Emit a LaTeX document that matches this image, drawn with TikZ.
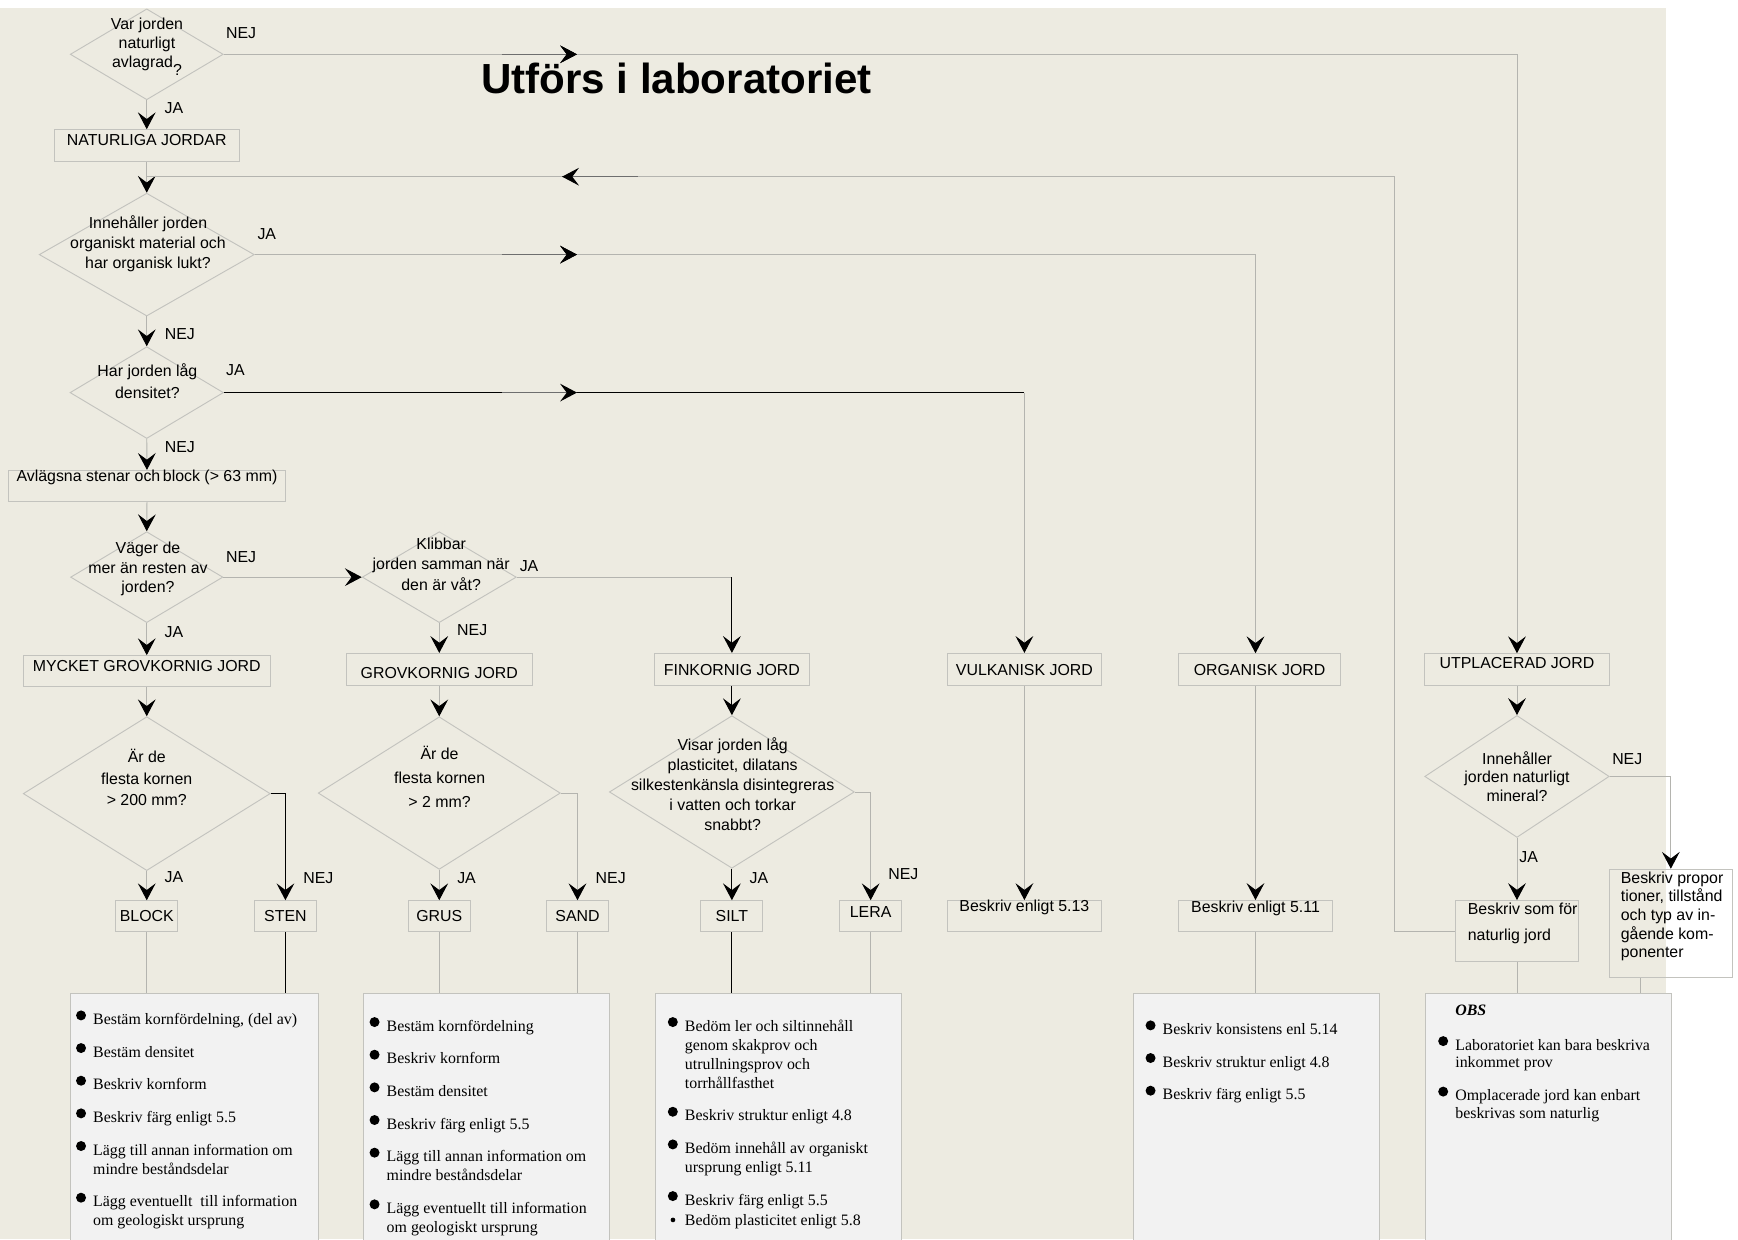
\documentclass[tikz,border=0pt]{standalone}
\usepackage{fontspec}
\setmainfont{Liberation Serif}
\setsansfont{Liberation Sans}
\usepackage{tikz}
\usetikzlibrary{positioning}
\usetikzlibrary{shapes.geometric}
\usetikzlibrary{arrows.meta}
\usetikzlibrary{decorations.markings}
\usepackage{xcolor}

\definecolor{beige}{RGB}{237,235,225}
\definecolor{linegray}{RGB}{180,180,175}
\definecolor{boxgray}{RGB}{195,195,190}
\definecolor{listfill}{RGB}{242,242,242}
\definecolor{shaftgray}{RGB}{110,110,110}

\newcommand{\boxfont}{\sffamily\fontsize{10.2}{12.2}\selectfont}
\newcommand{\prick}{\makebox[0pt][r]{\raisebox{2.6pt}{\tikz\fill (0,0) circle (3.2pt);}\hspace{4.6pt}}}
\newcommand{\liten}{\makebox[0pt][r]{\raisebox{1.8pt}{\tikz\fill (0,0) circle (1.5pt);}\hspace{6.2pt}}}

\begin{document}
\begin{tikzpicture}[x=0.025cm, y=-0.025cm,
  link/.style={draw=linegray, line width=0.6pt},
  blink/.style={draw=black, line width=0.7pt},
  tip/.style={-{Stealth[length=3.8mm, width=4mm, inset=1.5mm, color=black]}},
  box/.style={draw=boxgray, line width=0.6pt, inner sep=0pt, font=\boxfont, text height=7.3pt, text depth=0pt},
  query/.style={diamond, draw=boxgray, line width=0.6pt, inner sep=0pt},
  qtext/.style={align=center, inner sep=0pt, anchor=north, font=\sffamily\fontsize{10.2}{#1}\selectfont, execute at begin node={\rule{0pt}{8.5pt}}},
  lbl/.style={font=\boxfont, inner sep=0pt, text height=7.3pt, text depth=0pt},
  listbox/.style={draw=boxgray, fill=listfill, line width=0.6pt, inner sep=0pt, anchor=north west, minimum height=6cm},
  listtext/.style={align=left, inner sep=0pt, anchor=north west, font=\fontsize{10.2}{12.2}\selectfont, execute at begin node={\rule{0pt}{8.5pt}}},
  midtip/.style={postaction={decorate}, decoration={markings, mark=at position #1 with {\draw[shaftgray, line width=0.6pt] (-1.7cm,0) -- (0,0); \arrow{Stealth[length=3.8mm, width=4mm, inset=1.5mm, color=black]}}}}
]

\useasboundingbox (0,0) rectangle (1568,1118);
\fill[beige] (0,7.5) rectangle (1503,1118);

\node[font=\sffamily\bfseries\fontsize{27}{30}\selectfont, anchor=base, inner sep=0pt] (title) at (610.3,84.2) {Utförs i laboratoriet};

% questions
\node[query, minimum width=3.45cm, minimum height=2.05cm] (q1) at (132.4,49) {};
\node[query, minimum width=4.85cm, minimum height=2.77cm] (q2) at (132.4,229.7) {};
\node[query, minimum width=3.46cm, minimum height=2.07cm] (q3) at (132.4,354.2) {};
\node[query, minimum width=3.435cm, minimum height=2.05cm] (q4) at (132.4,520.7) {};
\node[query, minimum width=3.475cm, minimum height=2.05cm] (q5) at (396.3,520.7) {};
\node[query, minimum width=5.57cm, minimum height=3.47cm] (q6) at (132.4,716) {};
\node[query, minimum width=5.46cm, minimum height=3.44cm] (q7) at (396.3,715.5) {};
\node[query, minimum width=5.525cm, minimum height=3.44cm] (q8) at (660.3,714.5) {};
\node[query, minimum width=4.16cm, minimum height=2.75cm] (q9) at (1368.6,700.5) {};

\node[qtext=12.2pt] (q1-t) at (132.6,15.7) {Var jorden\\naturligt\\avlagrad\raisebox{-5pt}{?}};
\node[qtext=13pt] (q2-t) at (133.5,194.1) {Innehåller jorden\\organiskt material och\\har organisk lukt?};
\node[qtext=14.4pt] (q3-t) at (133,327.8) {Har jorden låg\\densitet?};
\node[qtext=12.5pt] (q4-t) at (133.5,488.7) {Väger de\\mer än resten av\\jorden?};
\node[qtext=13.2pt] (q5-t) at (398,484.8) {Klibbar\\jorden samman när\\den är våt?};
\node[qtext=13.7pt] (q6-t) at (132.4,675.8) {Är de\\flesta kornen\\> 200 mm?};
\node[qtext=15.5pt] (q7-t) at (396.6,672.8) {Är de\\flesta kornen\\> 2 mm?};
\node[qtext=12.8pt] (q8-t) at (661,665.2) {Visar jorden låg\\plasticitet, dilatans\\silkestenkänsla disintegreras\\i vatten och torkar\\snabbt?};
\node[qtext=11.9pt] (q9-t) at (1368.6,677.8) {Innehåller\\jorden naturligt\\mineral?};

% boxes
\node[box, minimum width=4.175cm, minimum height=0.725cm, text depth=7.8pt] (nat) at (132.4,131.5) {NATURLIGA JORDAR};
\node[box, minimum width=6.255cm, minimum height=0.7cm, text depth=12.8pt] (avl) at (132.6,438.5) {Avlägsna stenar och\,block (> 63 mm)};
\node[box, minimum width=5.57cm, minimum height=0.7cm, text depth=6.4pt] (myc) at (132.4,605.5) {MYCKET GROVKORNIG JORD};
\node[box, minimum width=4.19cm, minimum height=0.72cm, text height=11.6pt] (grovk) at (396.3,603.9) {GROVKORNIG JORD};
\node[box, minimum width=3.5cm, minimum height=0.72cm] (fink) at (660.3,603.9) {FINKORNIG JORD};
\node[box, minimum width=3.47cm, minimum height=0.72cm] (vulk) at (924.2,603.9) {VULKANISK JORD};
\node[box, minimum width=3.65cm, minimum height=0.72cm] (organ) at (1136.35,604.15) {ORGANISK JORD};
\node[box, minimum width=4.17cm, minimum height=0.72cm, text depth=8.5pt] (utpl) at (1368.6,604.15) {UTPLACERAD JORD};

\node[box, minimum width=1.39cm, minimum height=0.7cm] (block) at (132.4,826.6) {BLOCK};
\node[box, minimum width=1.4cm, minimum height=0.7cm] (sten) at (257.5,826.6) {STEN};
\node[box, minimum width=1.41cm, minimum height=0.7cm] (grus) at (396.3,826.6) {GRUS};
\node[box, minimum width=1.38cm, minimum height=0.7cm] (sand) at (521,826.6) {SAND};
\node[box, minimum width=1.4cm, minimum height=0.7cm] (silt) at (660.3,826.6) {SILT};
\node[box, minimum width=1.4cm, minimum height=0.7cm, text depth=5.7pt] (lera) at (785.5,826.6) {LERA};
\node[box, minimum width=3.47cm, minimum height=0.7cm, text depth=12.8pt] (b513) at (924.2,826.6) {Beskriv enligt 5.13};
\node[box, minimum width=3.475cm, minimum height=0.69cm, text depth=11.4pt] (b511) at (1132.7,826.2) {Beskriv enligt 5.11};
\node[box, minimum width=2.775cm, minimum height=1.38cm] (bsom) at (1368.6,840.05) {};
\node[font=\sffamily\fontsize{10.2}{16.8}\selectfont, align=left, inner sep=0pt, anchor=north west, execute at begin node={\rule{0pt}{8.5pt}}] (bsom-t) at (1324,814.1) {Beskriv som för\\naturlig jord};
\node[box, minimum width=2.775cm, minimum height=2.445cm] (propor) at (1507.4,833.1) {};
\node[font=\sffamily\fontsize{10.2}{11.95}\selectfont, align=left, inner sep=0pt, anchor=north west, execute at begin node={\rule{0pt}{8.5pt}}] (propor-t) at (1462,786.1) {Beskriv propor\\tioner, tillstånd\\och typ av in-\\gående kom-\\ponenter};

% labels
\node[lbl] (l1) at (217.5,29.2) {NEJ};
\node[lbl] (l2) at (157,97.7) {JA};
\node[lbl] (l3) at (240.7,210.5) {JA};
\node[lbl] (l4) at (162.3,300.8) {NEJ};
\node[lbl] (l5) at (212.4,333.8) {JA};
\node[lbl] (l6) at (162.3,403) {NEJ};
\node[lbl] (l7) at (217.5,502.2) {NEJ};
\node[lbl] (l8) at (157,570) {JA};
\node[lbl] (l9) at (477.3,510.7) {JA};
\node[lbl] (l10) at (426,568.4) {NEJ};
\node[lbl] (l11) at (157,791) {JA};
\node[lbl] (l12) at (287.2,791.5) {NEJ};
\node[lbl] (l13) at (420.9,791.5) {JA};
\node[lbl] (l14) at (551,791.5) {NEJ};
\node[lbl] (l15) at (684.6,791.5) {JA};
\node[lbl] (l16) at (815,788.5) {NEJ};
\node[lbl] (l17) at (1468.1,684.7) {NEJ};
\node[lbl] (l18) at (1379.2,772.7) {JA};

\coordinate (orgx) at (1132.7,0);
\coordinate (fbturn) at (1258.1,159.4);
\coordinate (fbjoin) at (132.4,159.4);

% connectors
\draw[link, tip, midtip=7.965cm] (q1.east) -| (utpl.north);
\draw[link, tip] (q1.south) -- (nat.north);
\draw[link, tip] (nat.south) -- (q2.north);
\draw[link, midtip=37.145cm] (bsom.west) -| (fbturn) -- (fbjoin);
\draw[link, tip, midtip=7.265cm] (q2.east) -| (orgx |- organ.north);
\draw[link, tip] (q2.south) -- (q3.north);
\draw[blink, midtip=7.96cm] (q3.east) -- (vulk.north |- q3.east);
\draw[link, tip] (vulk.north |- q3.east) -- (vulk.north);
\draw[link, tip] (q3.south) -- (avl.north);
\draw[link, tip] (avl.south) -- (q4.north);
\draw[link, tip] (q4.east) -- (q5.west);
\draw[link, tip] (q4.south) -- (myc.north);
\draw[link, tip] (q5.south) -- (grovk.north);
\draw[link] (q5.east) -- (fink.north |- q5.east);
\draw[blink, tip] (fink.north |- q5.east) -- (fink.north);
\draw[link, tip] (myc.south) -- (q6.north);
\draw[link, tip] (grovk.south) -- (q7.north);
\draw[blink, tip] (fink.south) -- (q8.north);
\draw[link, tip] (q6.south) -- (block.north);
\draw[blink, tip] (q6.east) -| (sten.north);
\draw[link, tip] (q7.south) -- (grus.north);
\draw[link, tip] (q7.east) -| (sand.north);
\draw[blink, tip] (q8.south) -- (silt.north);
\draw[link, tip] (q8.east) -| (lera.north);
\draw[link, tip] (vulk.south) -- (b513.north);
\draw[link, tip] (orgx |- organ.south) -- (b511.north);
\draw[link, tip] (utpl.south) -- (q9.north);
\draw[link, tip] (q9.south) -- (bsom.north);
\draw[link, tip] (q9.east) -| (propor.north);

% lists
\node[listbox, minimum width=5.5725cm] (bA) at (63.6,896.2) {};
\node[listbox, minimum width=5.545cm] (bB) at (327.3,896.2) {};
\node[listbox, minimum width=5.5575cm] (bC) at (590.8,896.2) {};
\node[listbox, minimum width=5.55cm] (bD) at (1021.8,896.2) {};
\node[listbox, minimum width=5.565cm] (bE) at (1285.3,896.2) {};

\draw[link] (block.south) -- (block.south |- bA.north);
\draw[blink] (sten.south) -- (sten.south |- bA.north);
\draw[link] (grus.south) -- (grus.south |- bB.north);
\draw[link] (sand.south) -- (sand.south |- bB.north);
\draw[blink] (silt.south) -- (silt.south |- bC.north);
\draw[link] (lera.south) -- (lera.south |- bC.north);
\draw[link] (b511.south) -- (b511.south |- bD.north);
\draw[link] (bsom.south) -- (bsom.south |- bE.north);
\draw[link] ([xshift=-0.685cm]propor.south) -- ([xshift=-0.685cm]propor.south |- bE.north);

\node[listtext] (bA-t) at (83.8,911.3) {\prick Bestäm kornfördelning, (del av)\\[8.75pt]
\prick Bestäm densitet\\[8.75pt]
\prick Beskriv kornform\\[8.75pt]
\prick Beskriv färg enligt 5.5\\[8.75pt]
\prick Lägg till annan information om\\mindre beståndsdelar\\[8.75pt]
\prick Lägg eventuellt\ \ till information\\om geologiskt ursprung};

\node[listtext] (bB-t) at (348.6,917.3) {\prick Bestäm kornfördelning\\[8.75pt]
\prick Beskriv kornform\\[8.75pt]
\prick Bestäm densitet\\[8.75pt]
\prick Beskriv färg enligt 5.5\\[8.75pt]
\prick Lägg till annan information om\\mindre beståndsdelar\\[8.75pt]
\prick Lägg eventuellt till information\\om geologiskt ursprung};

\node[listtext] (bC-t) at (617.7,917.3) {\prick Bedöm ler och siltinnehåll\\genom skakprov och\\utrullningsprov och\\torrhållfasthet\\[8.75pt]
\prick Beskriv struktur enligt 4.8\\[8.75pt]
\prick Bedöm innehåll av organiskt\\ursprung enligt 5.11\\[8.75pt]
\prick Beskriv färg enligt 5.5\\[0.6pt]
\liten Bedöm plasticitet enligt 5.8};

\node[listtext] (bD-t) at (1048.7,920.3) {\prick Beskriv konsistens enl 5.14\\[8.75pt]
\prick Beskriv struktur enligt 4.8\\[8.75pt]
\prick Beskriv färg enligt 5.5};

\node[listtext, font=\fontsize{10.2}{11.4}\selectfont] (bE-t) at (1312.7,906.7) {\textbf{\textit{OBS}}\\[10.6pt]
\prick Laboratoriet kan bara beskriva\\inkommet prov\\[9.6pt]
\prick Omplacerade jord kan enbart\\beskrivas som naturlig};

\end{tikzpicture}
\end{document}
